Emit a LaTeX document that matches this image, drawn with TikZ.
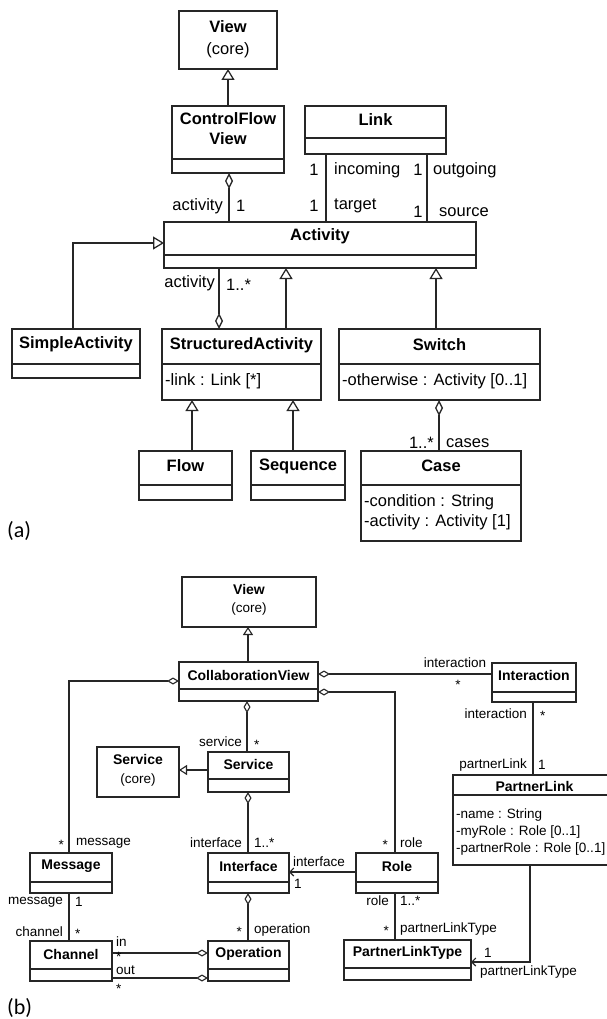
\documentclass[tikz,border=0pt]{standalone}
\usepackage{fontspec}
\setmainfont{Liberation Sans}
\newfontfamily\capfont{Carlito}
\usetikzlibrary{arrows.meta,calc}

% class box: name, x1, y1, x2, y2, divider y (empty = none)
\newcommand\umlcls[6]{%
  \node[clsbox, anchor=north west,
        minimum width={(#4-#2)*1pt}, minimum height={(#5-#3)*1pt}] (#1) at (#2,#3) {};
  \if\relax\detokenize{#6}\relax\else\draw[ln] (#2,#6) -- (#4,#6);\fi}

\begin{document}
\begin{tikzpicture}[x=1pt,y=-1pt,
  ln/.style={draw=black!85, line width=1.25pt},
  lnb/.style={draw=black!85, line width=1.1pt},
  clsbox/.style={ln, rectangle, inner sep=0pt, outer sep=0pt},
  ta/.style={font=\fontsize{16.5}{19}\selectfont\bfseries, inner sep=0pt},
  ra/.style={font=\fontsize{16.5}{19}\selectfont, inner sep=0pt},
  tb/.style={font=\fontsize{14}{16}\selectfont\bfseries, inner sep=0pt},
  rb/.style={font=\fontsize{13.5}{16}\selectfont, inner sep=0pt},
  genA/.style={ln, -{Triangle[open,length=11pt,width=13pt]}},
  aggA/.style={ln, {Diamond[open,length=16pt,width=8pt]}-},
  genB/.style={lnb, -{Triangle[open,length=8pt,width=10pt]}},
  aggB/.style={lnb, {Diamond[open,length=12pt,width=7pt]}-},
  navB/.style={lnb, -{Straight Barb[length=4pt,width=8pt]}},
  capt/.style={font=\capfont\fontsize{22}{24}\selectfont, inner sep=0pt, anchor=west}
]
\fill[white] (0,0) rectangle (606,1019);
\useasboundingbox (0,0) rectangle (606,1019);

% ---------------- (a) control flow view ----------------
\umlcls{viewA}{179}{11}{277}{69}{}
\node[ta] (viewA-t) at (228,27) {View};
\node[ra] (viewA-s) at (228,50) {(core)};

\umlcls{cfv}{172}{106}{284}{173}{159}
\node[ta] (cfv-t1) at (228,119) {ControlFlow};
\node[ta] (cfv-t2) at (228,139) {View};

\umlcls{link}{305}{106}{446}{154}{138}
\node[ta] (link-t) at (375.5,120) {Link};

\umlcls{act}{164}{222}{476}{268}{255}
\node[ta] (act-t) at (320,236) {Activity};

\umlcls{simple}{12}{329}{140}{378}{364}
\node[ta] (simple-t) at (76,344) {SimpleActivity};

\umlcls{sa}{162}{329}{321}{400}{364}
\node[ta] (sa-t) at (241.5,345) {StructuredActivity};
\node[ra, anchor=west] (sa-a) at (165,381) {-link : Link [*]};

\umlcls{sw}{339}{329}{540}{400}{364}
\node[ta] (sw-t) at (439.5,345) {Switch};
\node[ra, anchor=west] (sw-a) at (342,381) {-otherwise : Activity [0..1]};

\umlcls{flow}{139}{451}{232}{500}{485}
\node[ta] (flow-t) at (185.5,466) {Flow};

\umlcls{seq}{251}{451}{345}{500}{485}
\node[ta] (seq-t) at (298,466) {Sequence};

\umlcls{case}{361}{451}{521}{541}{485}
\node[ta] (case-t) at (441,466) {Case};
\node[ra, anchor=west] (case-a1) at (364,502) {-condition : String};
\node[ra, anchor=west] (case-a2) at (364,522) {-activity : Activity [1]};

\node[capt] (cap-a) at (7,531) {(a)};

% connectors (a)
\draw[genA] (cfv.north) -- (viewA.south);
\draw[aggA] (229,0 |- cfv.south) -- (229,0 |- act.north);
\draw[ln] (326,0 |- link.south) -- (326,0 |- act.north);
\draw[ln] (427,0 |- link.south) -- (427,0 |- act.north);
\draw[genA] (73,0 |- simple.north) |- (act.west |- 0,243);
\draw[aggA] (219,0 |- sa.north) -- (219,0 |- act.south);
\draw[genA] (286,0 |- sa.north) -- (286,0 |- act.south);
\draw[genA] (436,0 |- sw.north) -- (436,0 |- act.south);
\draw[genA] (192,0 |- flow.north) -- (192,0 |- sa.south);
\draw[genA] (293,0 |- seq.north) -- (293,0 |- sa.south);
\draw[aggA] (439,0 |- sw.south) -- (439,0 |- case.north);

% role names and multiplicities (a)
\node[ra, anchor=east] (l1) at (223,206) {activity};
\node[ra, anchor=west] (l2) at (236,206) {1};
\node[ra] (l3) at (314,170) {1};
\node[ra, anchor=west] (l4) at (334,170) {incoming};
\node[ra] (l5) at (314,206) {1};
\node[ra, anchor=west] (l6) at (334,206) {target};
\node[ra] (l7) at (418,170) {1};
\node[ra, anchor=west] (l8) at (433,170) {outgoing};
\node[ra] (l9) at (418,212) {1};
\node[ra, anchor=west] (l10) at (439,212) {source};
\node[ra, anchor=east] (l11) at (215,283) {activity};
\node[ra, anchor=west] (l12) at (226,285) {1..*};
\node[ra, anchor=east] (l13) at (434,443) {1..*};
\node[ra, anchor=west] (l14) at (446,443) {cases};

% ---------------- (b) collaboration view ----------------
\umlcls{viewB}{182}{577}{316}{627}{}
\node[tb] (viewB-t) at (249,589) {View};
\node[rb] (viewB-s) at (249,609) {(core)};

\umlcls{collab}{179}{662}{318}{701}{689}
\node[tb] (collab-t) at (248.5,675) {CollaborationView};

\umlcls{inter}{492}{663}{576}{702}{692}
\node[tb] (inter-t) at (534,675) {Interaction};

\umlcls{svcore}{97}{747}{179}{797}{}
\node[tb] (svcore-t) at (138,759) {Service};
\node[rb] (svcore-s) at (138,780) {(core)};

\umlcls{svc}{208}{752}{289}{792}{779}
\node[tb] (svc-t) at (248.5,764) {Service};

\umlcls{plink}{453}{775}{616}{865}{795}
\node[tb] (plink-t) at (534.5,786) {PartnerLink};
\node[rb, anchor=west] (plink-a1) at (456,815) {-name : String};
\node[rb, anchor=west] (plink-a2) at (456,832) {-myRole : Role [0..1]};
\node[rb, anchor=west] (plink-a3) at (456,849) {-partnerRole : Role [0..1]};

\umlcls{msg}{30}{853}{112}{893}{882}
\node[tb] (msg-t) at (71,866) {Message};

\umlcls{iface}{208}{853}{289}{893}{882}
\node[tb] (iface-t) at (248.5,866) {Interface};

\umlcls{role}{356}{853}{438}{893}{882}
\node[tb] (role-t) at (397,866) {Role};

\umlcls{chan}{30}{941}{112}{981}{969}
\node[tb] (chan-t) at (71,954) {Channel};

\umlcls{op}{208}{941}{289}{981}{969}
\node[tb] (op-t) at (248.5,954) {Operation};

\umlcls{plt}{344}{940}{471}{980}{968}
\node[tb] (plt-t) at (407.5,953) {PartnerLinkType};

\node[capt] (cap-b) at (7,1008) {(b)};

% connectors (b)
\draw[genB] (248,0 |- collab.north) -- (248,0 |- viewB.south);
\draw[aggB] (collab.east |- 0,674) -- (inter.west |- 0,674);
\draw[aggB] (collab.east |- 0,692) -| (395,0 |- role.north);
\draw[aggB] (collab.west |- 0,681) -| (69,0 |- msg.north);
\draw[aggB] (247,0 |- collab.south) -- (247,0 |- svc.north);
\draw[genB] (svc.west |- 0,770) -- (svcore.east |- 0,770);
\draw[aggB] (248,0 |- svc.south) -- (248,0 |- iface.north);
\draw[navB] (role.west |- 0,872) -- (iface.east |- 0,872);
\draw[lnb] (395,0 |- role.south) -- (395,0 |- plt.north);
\draw[lnb] (533,0 |- inter.south) -- (533,0 |- plink.north);
\draw[navB] (530,0 |- plink.south) |- (plt.east |- 0,962);
\draw[lnb] (69,0 |- msg.south) -- (69,0 |- chan.north);
\draw[aggB] (op.west |- 0,953) -- (chan.east |- 0,953);
\draw[aggB] (op.west |- 0,978) -- (chan.east |- 0,978);
\draw[aggB] (248,0 |- iface.south) -- (248,0 |- op.north);

% role names and multiplicities (b)
\node[rb] (m1) at (455,663) {interaction};
\node[rb] (m2) at (458,685) {*};
\node[rb, anchor=east] (m3) at (388,845) {*};
\node[rb, anchor=west] (m4) at (400,843) {role};
\node[rb, anchor=east] (m5) at (64,845) {*};
\node[rb, anchor=west] (m6) at (76,843) {message};
\node[rb, anchor=east] (m7) at (242,742) {service};
\node[rb, anchor=west] (m8) at (254,745) {*};
\node[rb, anchor=east] (m9) at (242,843) {interface};
\node[rb, anchor=west] (m10) at (254,843) {1..*};
\node[rb, anchor=west] (m11) at (293,862) {interface};
\node[rb, anchor=west] (m12) at (294,884) {1};
\node[rb, anchor=east] (m13) at (389,901) {role};
\node[rb, anchor=west] (m14) at (400,901) {1..*};
\node[rb, anchor=east] (m15) at (389,931) {*};
\node[rb, anchor=west] (m16) at (400,929) {partnerLinkType};
\node[rb, anchor=east] (m17) at (527,714) {interaction};
\node[rb, anchor=west] (m18) at (540,716) {*};
\node[rb, anchor=east] (m19) at (527,765) {partnerLink};
\node[rb, anchor=west] (m20) at (538,765) {1};
\node[rb, anchor=west] (m21) at (484,953) {1};
\node[rb, anchor=west] (m22) at (480,972) {partnerLinkType};
\node[rb, anchor=east] (m23) at (63,902) {message};
\node[rb, anchor=west] (m24) at (75,902) {1};
\node[rb, anchor=east] (m25) at (63,932) {channel};
\node[rb, anchor=west] (m26) at (75,934) {*};
\node[rb, anchor=west] (m27) at (116,942) {in};
\node[rb, anchor=west] (m28) at (116,957) {*};
\node[rb, anchor=west] (m29) at (116,970) {out};
\node[rb, anchor=west] (m30) at (116,989) {*};
\node[rb, anchor=east] (m31) at (242,932) {*};
\node[rb, anchor=west] (m32) at (254,930) {operation};
\end{tikzpicture}
\end{document}
